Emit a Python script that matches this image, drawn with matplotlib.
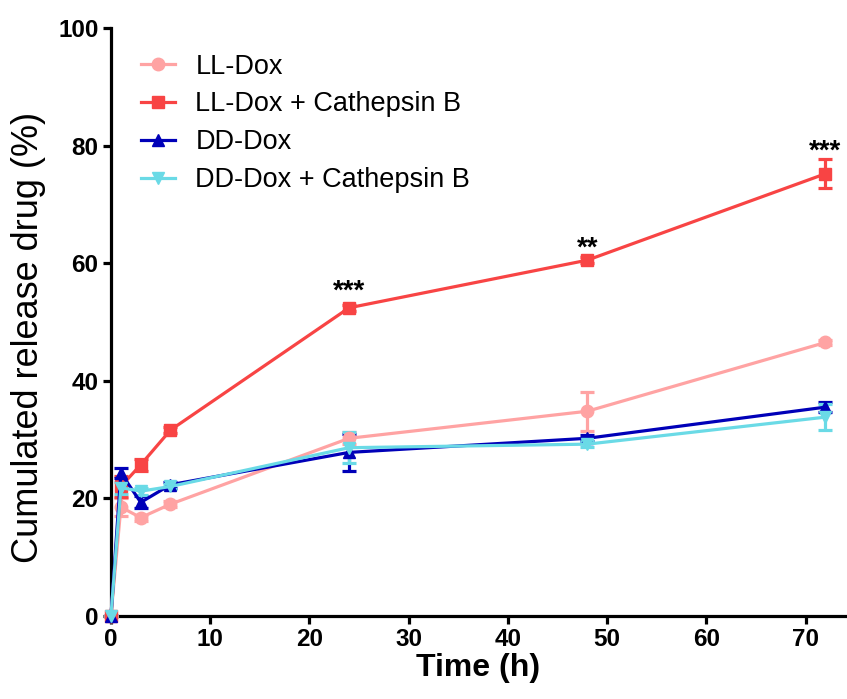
import matplotlib.pyplot as plt
from matplotlib.lines import Line2D

plt.rcParams['font.family'] = ['Liberation Sans', 'DejaVu Sans']

# Data
time_h = [0, 1, 3, 6, 24, 48, 72]
ll_dox = [0, 18.5, 16.7, 19.0, 30.2, 34.8, 46.5]
ll_dox_err = [0, 1.5, 0.5, 0.5, 1.0, 3.3, 0.5]
ll_cat = [0, 22.0, 25.7, 31.6, 52.4, 60.5, 75.2]
ll_cat_err = [0, 1.8, 1.0, 0.5, 0.5, 0.5, 2.5]
dd_dox = [0, 24.3, 19.3, 22.3, 27.8, 30.2, 35.5]
dd_dox_err = [0, 0.8, 1.0, 0.5, 3.2, 0.5, 0.8]
dd_cat = [0, 21.8, 21.2, 22.0, 28.6, 29.2, 33.8]
dd_cat_err = [0, 1.0, 0.6, 0.5, 2.6, 0.5, 2.2]

series = [
    ("LL-Dox", ll_dox, ll_dox_err, '#FFA3A3', 'o'),
    ("LL-Dox + Cathepsin B", ll_cat, ll_cat_err, '#F84444', 's'),
    ("DD-Dox", dd_dox, dd_dox_err, '#0000B8', '^'),
    ("DD-Dox + Cathepsin B", dd_cat, dd_cat_err, '#6ADAE6', 'v'),
]

sig_x = [24, 48, 72]
sig_y = [53.0, 60.2, 76.8]
sig_text = ["***", "**", "***"]

fig = plt.figure(figsize=(8.47, 6.99), dpi=100)
ax = fig.add_axes([0.131, 0.119, 0.867, 0.841])

handles = []
for label, y, err, c, m in series:
    ax.errorbar(time_h, y, yerr=err, color=c, marker=m, markersize=9,
                lw=2.3, elinewidth=2.3, capsize=5, capthick=2.3,
                clip_on=False, zorder=3)
    handles.append(Line2D([], [], color=c, marker=m, markersize=9, lw=2.3, label=label))

for x, y, t in zip(sig_x, sig_y, sig_text):
    ax.text(x, y, t, ha='center', va='bottom', fontsize=20, fontweight='bold')

ax.set_xlim(0, 74)
ax.set_ylim(0, 100)
ax.set_xticks(range(0, 80, 10))
ax.set_yticks(range(0, 120, 20))
for s in ['top', 'right']:
    ax.spines[s].set_visible(False)
for s in ['left', 'bottom']:
    ax.spines[s].set_linewidth(2.3)
ax.tick_params(width=2.3, length=6, labelsize=17.5, pad=3)
for lbl in ax.get_xticklabels() + ax.get_yticklabels():
    lbl.set_fontweight('bold')

ax.set_xlabel("Time (h)", fontsize=23, fontweight='bold', labelpad=1)
ax.set_ylabel("Cumulated release drug (%)", fontsize=26)
ax.yaxis.set_label_coords(-0.088, 0.473)

ax.legend(handles=handles, loc='upper left', bbox_to_anchor=(0.008, 0.998), frameon=False,
          fontsize=19.5, handlelength=1.25, handletextpad=0.75, labelspacing=0.44)

fig.savefig("out.png", dpi=100)
